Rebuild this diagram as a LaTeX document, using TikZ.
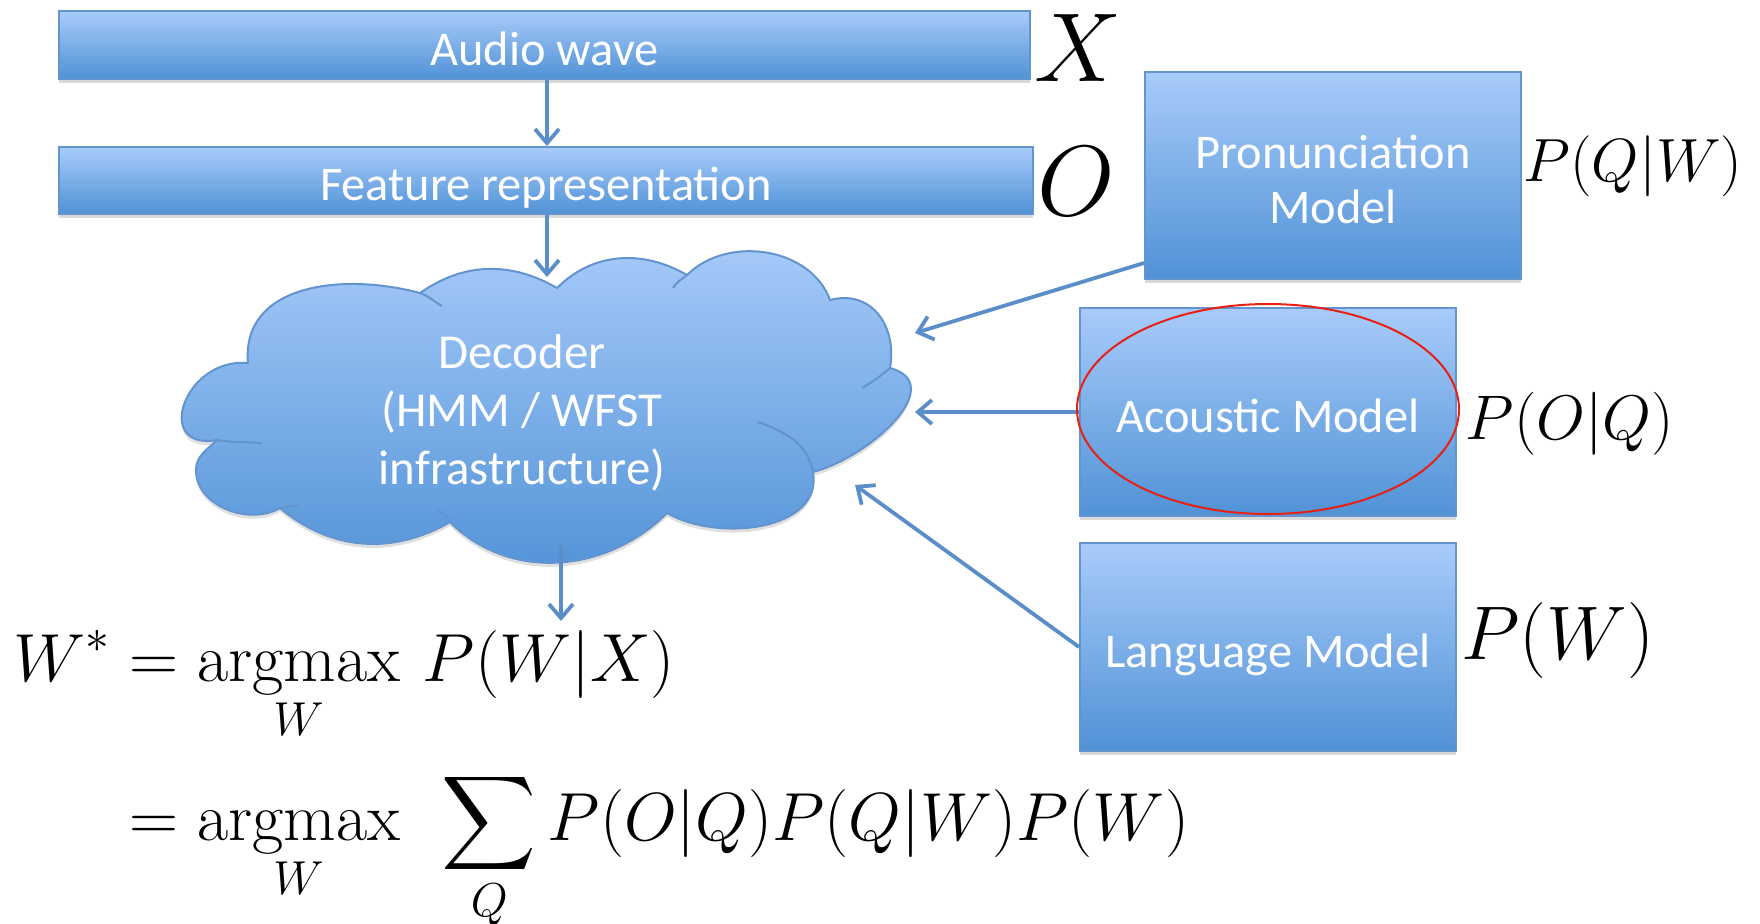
\RequirePackage{fix-cm}
\documentclass[tikz,border=0pt]{standalone}
\usepackage{amsmath}
\usepackage{graphicx}
\usepackage{fontspec}
\newfontfamily\boxfont{Carlito}
\usetikzlibrary{arrows.meta,shadows,calc}
\definecolor{boxtop}{RGB}{168,203,250}
\definecolor{boxbot}{RGB}{80,146,214}
\definecolor{boxline}{RGB}{100,148,207}
\definecolor{arrowc}{RGB}{90,142,201}
\definecolor{ringred}{RGB}{232,32,20}
\newcommand\boxtext[1]{\raisebox{-4.5pt}[\height][\depth]{\begin{tabular}{@{}c@{}}#1\end{tabular}}}
\newcommand\bigsum{\mathop{\vcenter{\hbox{\scalebox{1.32}{$\displaystyle\sum$}}}}\limits}
\tikzset{
  blockbox/.style={draw=boxline, line width=1pt, top color=boxtop, bottom color=boxbot,
    text=white, font=\boxfont\fontsize{24.2}{27.5}\selectfont, inner sep=0pt,
    drop shadow={shadow xshift=0pt, shadow yshift=-2pt, opacity=0.3}},
  cloudfill/.style={draw=boxline, line width=1pt, top color=boxtop, bottom color=boxbot,
    drop shadow={shadow xshift=0pt, shadow yshift=-2pt, opacity=0.25}},
  innerarc/.style={draw=boxline, line width=1pt},
  flow/.style={draw=arrowc, line width=1.9pt, -{Straight Barb[length=7pt,width=12pt,line width=1.9pt]}},
  mathlabel/.style={inner sep=0pt},
}
\begin{document}
\begin{tikzpicture}[x=0.5pt,y=-0.5pt]
\useasboundingbox (0,0) rectangle (1760,923);

% boxes
\node[blockbox, minimum width=485.5pt, minimum height=34pt] (aw) at (544.5,45) {\boxtext{Audio wave}};
\node[blockbox, minimum width=487pt, minimum height=33.5pt] (fr) at (546,180.5) {\boxtext{Feature representation}};
\node[blockbox, minimum width=188pt, minimum height=103.5pt] (pm) at (1333,175.5) {\boxtext{Pronunciation\\Model}};
\node[blockbox, minimum width=188pt, minimum height=104pt] (am) at (1268,412) {\boxtext{Acoustic Model}};
\node[blockbox, minimum width=188pt, minimum height=104pt] (lm) at (1268,647) {\boxtext{Language Model}};

% cloud
\path[cloudfill] (248,363)
  to[out=95,in=165,looseness=1.1] (420,293)
  to[out=35,in=150] (557,288)
  to[out=45,in=150] (687,275)
  to[out=45,in=110] (830,300)
  to[out=15,in=80,looseness=1.2] (890,368)
  to[out=-15,in=15,looseness=1.2] (813,472)
  to[out=-80,in=-30] (667,513)
  to[out=225,in=-45] (450,522)
  to[out=210,in=-40] (280,508)
  to[out=210,in=-90] (196,470)
  to[out=90,in=225] (217,440)
  to[out=190,in=175,looseness=2] (248,363) -- cycle;
\draw[innerarc] (420,293) to[out=-20,in=150] (442,306);
\draw[innerarc] (217,440) to[out=-10,in=175] (262,443);
\draw[innerarc] (280,508) to[out=10,in=190] (299,505);
\draw[innerarc] (890,368) to[out=220,in=30] (862,388);
\draw[innerarc] (758,422) to[out=-20,in=100] (813,472);
\draw[innerarc] (687,275) to[out=220,in=60] (673,288);
\draw[innerarc] (450,522) to[out=100,in=-40] (438,510);
\node[text=white, font=\boxfont\fontsize{24.4}{29}\selectfont, align=center] (dec) at (522,413) {Decoder\\(HMM / WFST\\infrastructure)};

% cloud anchor points
\coordinate (ctop) at (547,277);
\coordinate (cbot) at (561,545);
\coordinate (res) at (561,621);
\coordinate (c1) at (915,333);
\coordinate (c2) at (915,412);
\coordinate (c3) at (855,485);

% connectors
\draw[flow] (aw.south -| ctop) -- (fr.north -| ctop);
\draw[flow] (fr.south -| ctop) -- (ctop);
\draw[flow] (cbot) -- (res);
\draw[flow] ($(pm.south west)+(0,-17)$) -- (c1);
\draw[flow] (am.west) -- (c2);
\draw[flow] (lm.west) -- (c3);

% highlight ring
\draw[ringred, line width=1pt] (1268,409) ellipse [x radius=191, y radius=105];

% math labels
\node[mathlabel, font=\fontsize{49}{55}\selectfont] (lx) at (1078,48) {$X$};
\node[mathlabel, font=\fontsize{50}{56}\selectfont] (lo) at (1076,181) {$O$};
\node[mathlabel, font=\fontsize{30.5}{36}\selectfont] (lqw) at (1633,166) {$P(Q|W)$};
\node[mathlabel, font=\fontsize{31.5}{36}\selectfont] (loq) at (1570,424) {$P(O|Q)$};
\node[mathlabel, font=\fontsize{38}{44}\selectfont] (lw) at (1558,640) {$P(W)$};

% equations
\node[anchor=base west, inner sep=0pt, font=\fontsize{34}{40}\selectfont] (eq1) at (13,681)
  {$\displaystyle W^* = \operatorname*{argmax}_W\, P(W|X)$};
\node[anchor=base west, inner sep=0pt, font=\fontsize{34}{40}\selectfont] (eq2) at (13,840)
  {$\displaystyle \phantom{W^*} = \operatorname*{argmax}_W\;\, \bigsum_{\raisebox{3pt}[\height][\depth]{$\scriptstyle Q$}} P(O|Q)P(Q|W)P(W)$};
\end{tikzpicture}
\end{document}
